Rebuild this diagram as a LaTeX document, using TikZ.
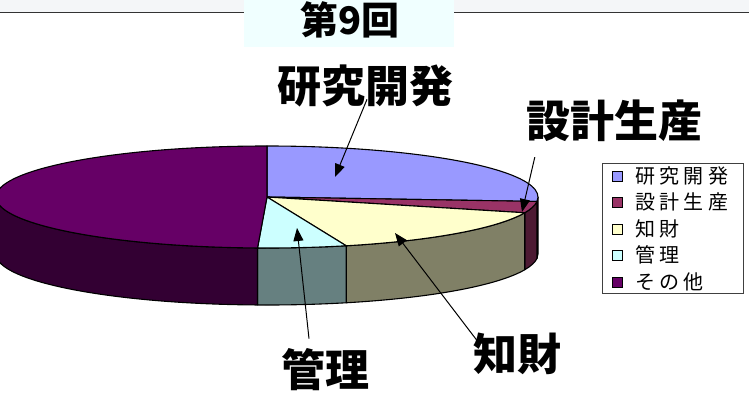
\documentclass[tikz,border=0pt]{standalone}
\usepackage{fontspec}
\newfontfamily\jp{Noto Sans CJK JP}
\newfontfamily\jpleg[LetterSpace=22]{Noto Sans CJK JP}
\usetikzlibrary{arrows.meta}

\definecolor{bandgray}{HTML}{F4F6F8}
\definecolor{titlebg}{HTML}{F0FFFF}
\definecolor{rdtop}{HTML}{9999FF}
\definecolor{rdside}{HTML}{4D4D80}
\definecolor{dptop}{HTML}{993366}
\definecolor{dpside}{HTML}{4D1A33}
\definecolor{iptop}{HTML}{FFFFCC}
\definecolor{ipside}{HTML}{808066}
\definecolor{mgtop}{HTML}{CCFFFF}
\definecolor{mgside}{HTML}{668080}
\definecolor{ottop}{HTML}{660066}
\definecolor{otside}{HTML}{330033}

\begin{document}
\begin{tikzpicture}[x=1pt,y=1pt,
    edge/.style={draw=black, line width=1.1pt, line join=round},
    biglabel/.style={font=\jp\bfseries\fontsize{44}{44}\selectfont, inner sep=0pt},
    callout/.style={line width=1pt, -{Triangle[length=13pt,width=10pt]}},
    legkey/.style={draw=black, line width=0.9pt, minimum size=10pt, inner sep=0pt},
    legtext/.style={font=\jpleg\fontsize{20}{20}\selectfont, anchor=west, inner sep=0pt}]
    \useasboundingbox (0,0) rectangle (749,392);

    % title band
    \fill[bandgray] (0,380) rectangle (749,392);
    \draw[line width=1.5pt, black!80] (0,379.5) -- (749,379.5);
    \fill[titlebg] (244,345) rectangle (454,392);
    \node[font=\jp\bfseries\fontsize{38}{38}\selectfont, inner sep=0pt] (title) at (350,372) {第9回};

    \coordinate (C) at (267,195);

    % side of the pie
    \filldraw[edge, fill=rdside] (C) ++(0:271 and 51) arc[start angle=0, end angle=-5, x radius=271, y radius=51] -- ++(0,-57) arc[start angle=-5, end angle=0, x radius=271, y radius=51] -- cycle;
    \filldraw[edge, fill=dpside] (C) ++(-5:271 and 51) arc[start angle=-5, end angle=-18, x radius=271, y radius=51] -- ++(0,-57) arc[start angle=-18, end angle=-5, x radius=271, y radius=51] -- cycle;
    \filldraw[edge, fill=ipside] (C) ++(-18:271 and 51) arc[start angle=-18, end angle=-73, x radius=271, y radius=51] -- ++(0,-57) arc[start angle=-73, end angle=-18, x radius=271, y radius=51] -- cycle;
    \filldraw[edge, fill=mgside] (C) ++(-73:271 and 51) arc[start angle=-73, end angle=-92, x radius=271, y radius=51] -- ++(0,-57) arc[start angle=-92, end angle=-73, x radius=271, y radius=51] -- cycle;
    \filldraw[edge, fill=otside] (C) ++(-92:271 and 51) arc[start angle=-92, end angle=-180, x radius=271, y radius=51] -- ++(0,-57) arc[start angle=-180, end angle=-92, x radius=271, y radius=51] -- cycle;

    % top of the pie
    \filldraw[edge, fill=rdtop] (C) -- ++(90:271 and 51) arc[start angle=90, end angle=-5, x radius=271, y radius=51] -- cycle;
    \filldraw[edge, fill=dptop] (C) -- ++(-5:271 and 51) arc[start angle=-5, end angle=-18, x radius=271, y radius=51] -- cycle;
    \filldraw[edge, fill=iptop] (C) -- ++(-18:271 and 51) arc[start angle=-18, end angle=-73, x radius=271, y radius=51] -- cycle;
    \filldraw[edge, fill=mgtop] (C) -- ++(-73:271 and 51) arc[start angle=-73, end angle=-92, x radius=271, y radius=51] -- cycle;
    \filldraw[edge, fill=ottop] (C) -- ++(-92:271 and 51) arc[start angle=-92, end angle=-270, x radius=271, y radius=51] -- cycle;

    % labels and callouts
    \coordinate (rdtip) at (335,215);
    \coordinate (dptip) at (522,180);
    \coordinate (iptip) at (395,159);
    \coordinate (mgtip) at (297,164);

    \node[biglabel] (rdlab) at (365,306) {研究開発};
    \node[biglabel] (dplab) at (614,271) {設計生産};
    \node[biglabel] (iplab) at (517,38) {知財};
    \node[biglabel] (mglab) at (325,22) {管理};

    \draw[callout] (rdlab.south) ++(2,8) -- (rdtip);
    \draw[callout] (dplab.south west) ++(9,-15) -- (dptip);
    \draw[callout] (iplab.north west) ++(6,-10) -- (iptip);
    \draw[callout] (mglab.north) ++(-16,10) -- (mgtip);

    % legend
    \node[draw=black!75, line width=1pt, fill=white, minimum width=141pt, minimum height=130pt, inner sep=0pt] (legend) at (672.5,164) {};
    \node[legkey, fill=rdtop] (k1) at (617,216) {};
    \node[legkey, fill=dptop] (k2) at (617,190) {};
    \node[legkey, fill=iptop] (k3) at (617,163) {};
    \node[legkey, fill=mgtop] (k4) at (617,137) {};
    \node[legkey, fill=ottop] (k5) at (617,110) {};
    \node[legtext] (t1) at (635,216) {研究開発};
    \node[legtext] (t2) at (635,190) {設計生産};
    \node[legtext] (t3) at (635,163) {知財};
    \node[legtext] (t4) at (635,137) {管理};
    \node[legtext] (t5) at (635,110) {その他};
\end{tikzpicture}
\end{document}
